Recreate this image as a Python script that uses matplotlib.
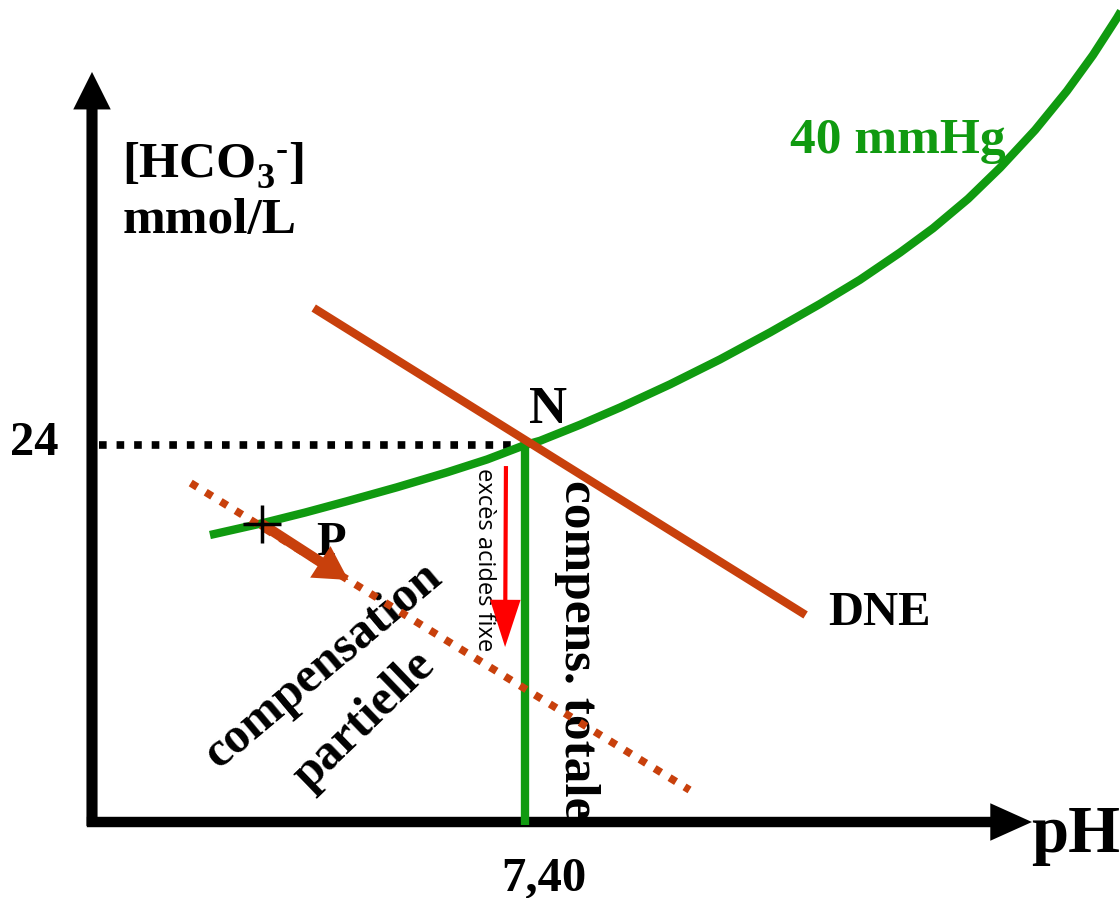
import matplotlib
matplotlib.use("Agg")
import matplotlib.pyplot as plt
from matplotlib.patches import FancyArrowPatch

# ---------------- data (pH, [HCO3-] mmol/L) ----------------
ph_curve = [7.2181, 7.2487, 7.2730, 7.2972, 7.3261, 7.3550, 7.3781, 7.4000,
            7.4087, 7.4318, 7.4549, 7.4837, 7.5126, 7.5415, 7.5703, 7.5934,
            7.6165, 7.6356, 7.6558, 7.6743, 7.6945, 7.7129, 7.7279, 7.7418, 7.7476]
hco3_curve = [18.27, 19.03, 19.70, 20.42, 21.31, 22.26, 23.08, 24.00,
              24.27, 25.29, 26.39, 27.86, 29.45, 31.17, 32.98, 34.52,
              36.25, 37.80, 39.67, 41.65, 44.05, 46.54, 48.82, 51.19, 52.27]

ph_dne = [7.278, 7.562]
hco3_dne = [32.72, 13.18]

ph_partial = [7.207, 7.495]
hco3_partial = [21.58, 2.04]

ph_normal = 7.40
hco3_normal = 24.0

ph_P = 7.248
hco3_P = 18.97
ph_P_tip = 7.298
hco3_P_tip = 15.41

ph_acid = [7.389, 7.3885]
hco3_acid = [22.66, 11.14]

ph_origin = 7.15
ph_axis_end = 7.6927
hco3_axis_end = 47.75

tick_ph_label = "7,40"
tick_hco3_label = "24"

# ---------------- style ----------------
GREEN = "#109a10"
BROWN = "#c8400c"
RED = "#ff0000"
SERIF = "Liberation Serif"

W, H = 1120, 898
fig = plt.figure(figsize=(W / 100, H / 100), dpi=100)
ax = fig.add_axes([0, 0, 1, 1])
ax.set_xlim(7.09688, 7.74353)
ax.set_ylim(-4.838, 52.33)
ax.axis("off")


def P(x, y):
    return (x / W, 1 - y / H)


def arrow(p0, p1, color, tail, hw, hl, z=3):
    a = FancyArrowPatch(p0, p1,
                        arrowstyle=f"simple,head_length={hl},head_width={hw},tail_width={tail}",
                        mutation_scale=1, color=color, lw=0, shrinkA=0, shrinkB=0, zorder=z)
    ax.add_patch(a)


# axes arrows
arrow((ph_origin, -0.25), (ph_origin, hco3_axis_end), "black", 8, 27, 27, z=2)
arrow((ph_origin - 0.003, 0), (ph_axis_end, 0), "black", 7.5, 27, 30, z=2)

# reference dotted line
ax.plot([ph_origin + 0.004, ph_normal], [hco3_normal, hco3_normal], color="black",
        lw=5.5, linestyle=(0, (1, 1.3)), dash_capstyle="butt", zorder=2)

# total compensation (vertical)
ax.plot([ph_normal, ph_normal], [hco3_normal, -0.2], color=GREEN, lw=6, zorder=3,
        solid_capstyle="butt")

# isopleth 40 mmHg
ax.plot(ph_curve, hco3_curve, color=GREEN, lw=6, solid_joinstyle="round",
        solid_capstyle="butt", zorder=3)

# DNE line
ax.plot(ph_dne, hco3_dne, color=BROWN, lw=6, solid_capstyle="butt", zorder=4)

# partial compensation dotted line
ax.plot(ph_partial, hco3_partial, color=BROWN, lw=5.5, linestyle=(0, (1, 1.3)),
        dash_capstyle="butt", zorder=4)

# P arrow
arrow((ph_P, hco3_P), (ph_P_tip, hco3_P_tip), BROWN, 7.5, 27, 24, z=5)
ax.plot([ph_P], [hco3_P], marker="+", ms=28, mew=2.5, color="black", zorder=6)

# acid excess arrow
arrow((ph_acid[0], hco3_acid[0]), (ph_acid[1], hco3_acid[1]), RED, 3, 22, 34, z=5)

# ---------------- texts ----------------
bold = dict(family=SERIF, fontweight="bold")
tb = dict(transform=ax.transAxes, **bold)

# [HCO3-] built from pieces
t1 = ax.text(*P(122, 177), "[HCO", fontsize=37, ha="left", va="baseline", **tb)
t2 = ax.annotate("3", xy=(1, 0), xycoords=t1, xytext=(0.5, 0), textcoords="offset points",
                 fontsize=26, ha="left", va="baseline", **bold)
t3 = ax.annotate("-", xy=(1, 0), xycoords=t2, xytext=(0.5, 26), textcoords="offset points",
                 fontsize=26, ha="left", va="baseline", **bold)
ax.annotate("]", xy=(1, 0), xycoords=t3, xytext=(0.5, -6.5), textcoords="offset points",
            fontsize=37, ha="left", va="baseline", **bold)

ax.text(*P(123, 233), "mmol/L", fontsize=37, ha="left", va="baseline", **tb)
ax.text(*P(34, 455), tick_hco3_label, fontsize=35, ha="center", va="baseline", **tb)
ax.text(*P(544, 890), tick_ph_label, fontsize=35, ha="center", va="baseline", **tb)
ax.text(*P(1031, 852), "pH", fontsize=48, ha="left", va="baseline", **tb)
ax.text(*P(548, 423), "N", fontsize=38, ha="center", va="baseline", **tb)
ax.text(*P(331, 555), "P", fontsize=35, ha="center", va="baseline", **tb)
ax.text(*P(828, 625), "DNE", fontsize=35, ha="left", va="baseline", **tb)
ax.text(*P(790, 153), "40 mmHg", fontsize=37, ha="left", va="baseline", color=GREEN, **tb)
ax.text(*P(577, 650), "compens. totale", fontsize=37, rotation=-90, ha="center", va="center", **tb)
ax.text(*P(323, 666), "compensation", fontsize=36, rotation=40, ha="center", va="center", **tb)
ax.text(*P(364, 721), "partielle", fontsize=36, rotation=44, ha="center", va="center", **tb)
ax.text(*P(484, 560), "excès acides fixe", family="Open Sans", fontsize=17, rotation=-90,
        ha="center", va="center", transform=ax.transAxes)

fig.savefig("out.png", dpi=100)
